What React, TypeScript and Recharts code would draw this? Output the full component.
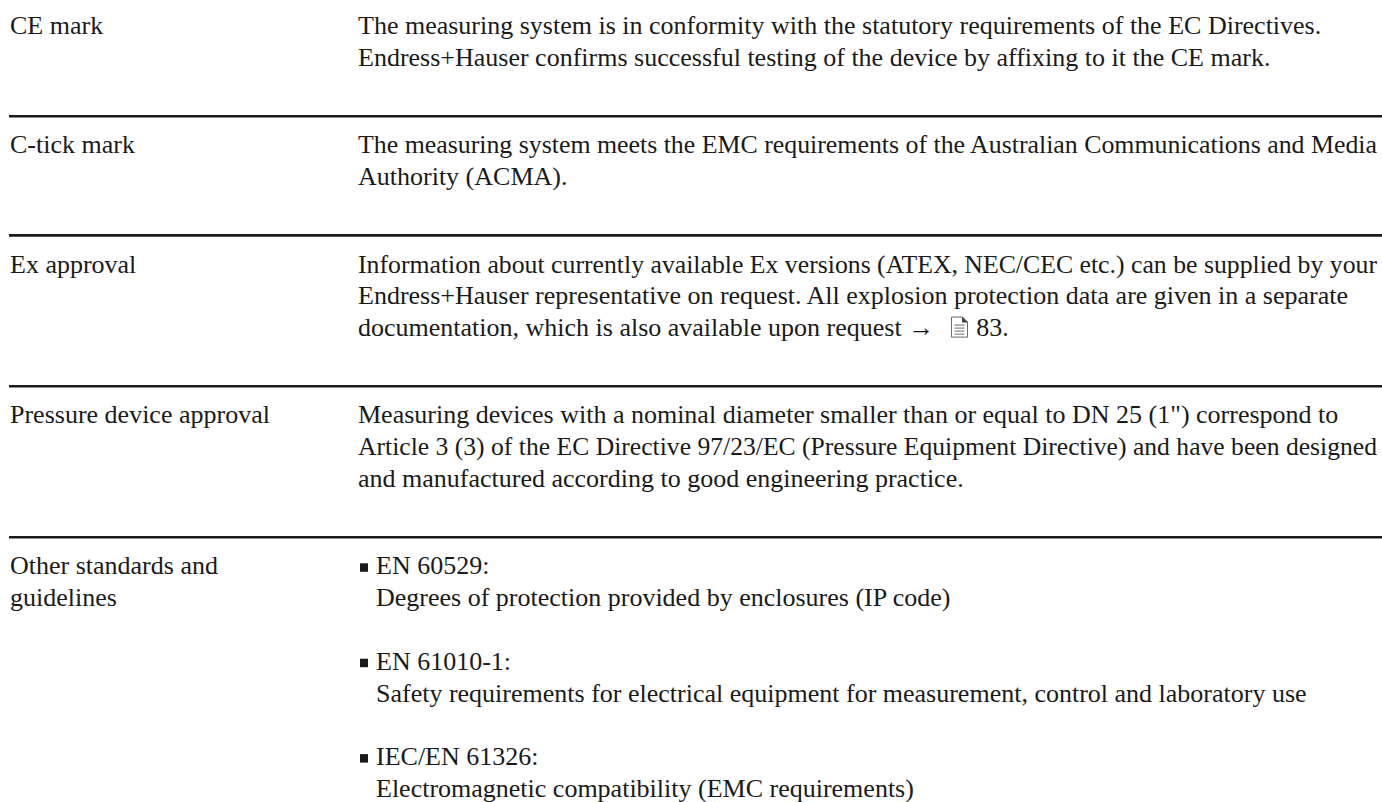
import { useLayoutEffect, useRef, useState } from "react";
import { Surface, Layer, Rectangle } from "recharts";

// left column: item names (one entry per row, wrapped lines)
const labels: string[][] = [
  ["CE mark"],
  ["C-tick mark"],
  ["Ex approval"],
  ["Pressure device approval"],
  ["Other standards and", "guidelines"],
];

// right column: descriptions for the first four rows
const descriptions: string[][] = [
  [
    "The measuring system is in conformity with the statutory requirements of the EC Directives.",
    "Endress+Hauser confirms successful testing of the device by affixing to it the CE mark.",
  ],
  [
    "The measuring system meets the EMC requirements of the Australian Communications and Media",
    "Authority (ACMA).",
  ],
  [
    "Information about currently available Ex versions (ATEX, NEC/CEC etc.) can be supplied by your",
    "Endress+Hauser representative on request. All explosion protection data are given in a separate",
    "documentation, which is also available upon request \u2192",
  ],
  [
    "Measuring devices with a nominal diameter smaller than or equal to DN 25 (1\") correspond to",
    "Article 3 (3) of the EC Directive 97/23/EC (Pressure Equipment Directive) and have been designed",
    "and manufactured according to good engineering practice.",
  ],
];

const pageRef = "83.";

// last row: bullet list of standards
const standards = ["EN 60529:", "EN 61010-1:", "IEC/EN 61326:"];
const standardTexts = [
  "Degrees of protection provided by enclosures (IP code)",
  "Safety requirements for electrical equipment for measurement, control and laboratory use",
  "Electromagnetic compatibility (EMC requirements)",
];

const W = 1382;
const H = 802;
const FONT = "'Liberation Serif', 'Times New Roman', serif";
const INK = "#1a1a1a";
const LINE = 31.8;
const LABEL_X = 10;
const DESC_X = 358;
const RIGHT_EDGE = 1377;
const BULLET_X = 360;
const BULLET_TEXT_X = 376;

// squeezes a line only when it would run past the right margin
function FitText({ x, y, children }: { x: number; y: number; children: React.ReactNode }) {
  const ref = useRef<SVGTextElement>(null);
  const [len, setLen] = useState<number | undefined>(undefined);
  useLayoutEffect(() => {
    const el = ref.current;
    if (!el) return;
    const max = RIGHT_EDGE - x;
    if (el.getComputedTextLength() > max) setLen(max);
  }, [x]);
  return (
    <text ref={ref} x={x} y={y} textLength={len} lengthAdjust={len ? "spacingAndGlyphs" : undefined}>
      {children}
    </text>
  );
}

function DocIcon({ x, y }: { x: number; y: number }) {
  return (
    <g stroke="#6b6b6b" strokeWidth={1} fill="none">
      <path d={`M${x} ${y} h11 l5 5 v15 h-16 z`} fill="#fff" />
      <path d={`M${x + 11} ${y} v5 h5`} fill="#444" stroke="#444" />
      {[8, 11, 14, 17].map((d) => (
        <line key={d} x1={x + 3} x2={x + 13} y1={y + d} y2={y + d} />
      ))}
    </g>
  );
}

export default function App() {
  const items: JSX.Element[] = [];
  let baseline = 34.3;

  labels.forEach((lab, r) => {
    const start = baseline;
    lab.forEach((t, i) => {
      items.push(
        <text key={`l${r}-${i}`} x={LABEL_X} y={start + i * LINE}>
          {t}
        </text>
      );
    });

    let last = start;
    if (r < descriptions.length) {
      descriptions[r].forEach((t, i) => {
        const y = start + i * LINE;
        const isRef = t.endsWith("\u2192");
        if (isRef) {
          items.push(
            <text key={`d${r}-${i}`} x={DESC_X} y={y}>
              {t}
              <tspan dx={42}>{pageRef}</tspan>
            </text>
          );
          items.push(<DocIcon key={`icon${r}`} x={951.5} y={y - 19} />);
        } else {
          items.push(
            <FitText key={`d${r}-${i}`} x={DESC_X} y={y}>
              {t}
            </FitText>
          );
        }
        last = y;
      });
    } else {
      standards.forEach((s, k) => {
        const y = start + k * 3 * LINE;
        items.push(
          <Rectangle key={`b${k}`} x={BULLET_X} y={y - 11} width={8} height={8.5} fill={INK} />
        );
        items.push(
          <text key={`s${k}`} x={BULLET_TEXT_X} y={y}>
            {s}
          </text>
        );
        items.push(
          <FitText key={`st${k}`} x={BULLET_TEXT_X} y={y + LINE}>
            {standardTexts[k]}
          </FitText>
        );
        last = y + LINE;
      });
    }

    if (r < labels.length - 1) {
      const sepY = last + 50.2;
      items.push(
        <Rectangle key={`sep${r}`} x={9} y={sepY - 1.3} width={W - 9} height={2.6} fill={INK} />
      );
      baseline = sepY + 37.1;
    }
  });

  return (
    <div style={{ position: "absolute", left: 0, top: 0, width: W, height: H, background: "#fff" }}>
      <Surface width={W} height={H}>
        <Layer fontFamily={FONT} fontSize={26} fill={INK}>
          {items}
        </Layer>
      </Surface>
    </div>
  );
}
